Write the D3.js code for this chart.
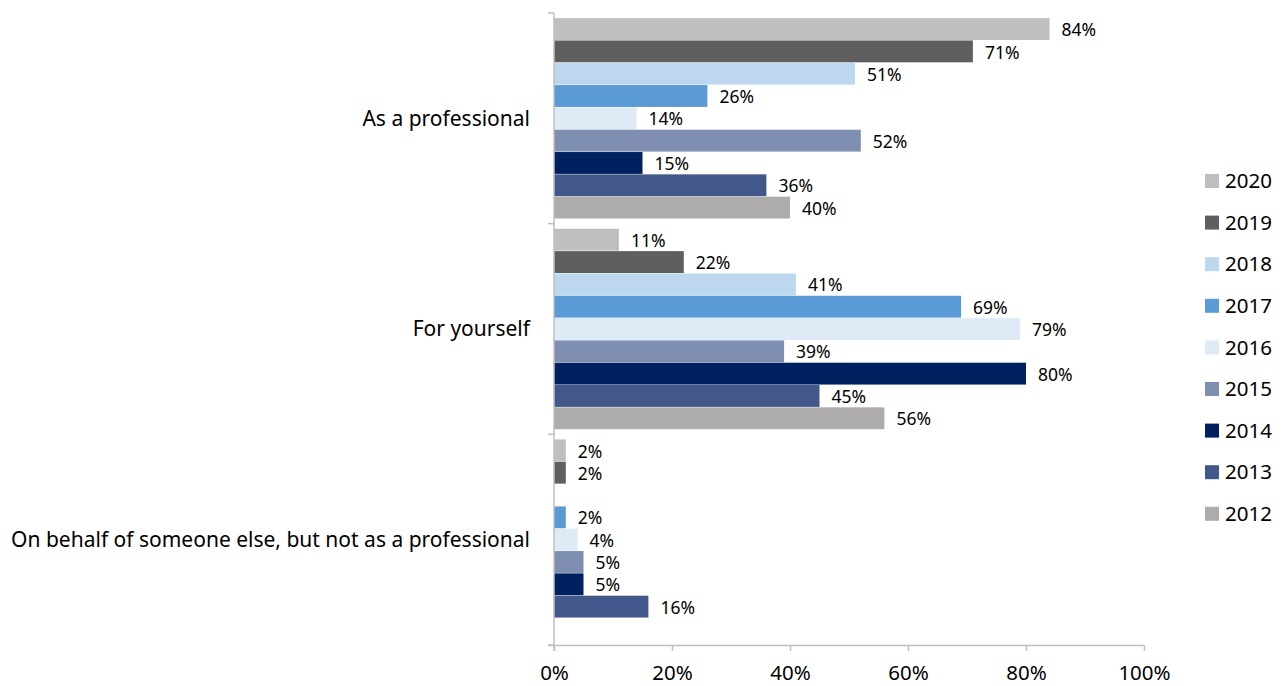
<!DOCTYPE html>
<html>
<head>
<meta charset="utf-8">
<script src="https://cdn.jsdelivr.net/npm/d3@7"></script>
<style>
  html, body { margin: 0; padding: 0; background: #fff; }
  svg { display: block; font-family: "Noto Sans", "Open Sans", sans-serif; }
</style>
</head>
<body>
<svg id="chart" width="1285" height="686"></svg>
<script>
// Categories (top to bottom) and series (years, drawn top to bottom inside each group)
const categories = ["As a professional", "For yourself", "On behalf of someone else, but not as a professional"];
const years = ["2020", "2019", "2018", "2017", "2016", "2015", "2014", "2013", "2012"];
const colors = ["#bfbfbf", "#5f5f5f", "#bdd7ee", "#5b9bd5", "#deebf7", "#7f8fb1", "#002060", "#42578a", "#aeabab"];

// Share (%) per year for each category; null = no response recorded
const asProfessional = [84, 71, 51, 26, 14, 52, 15, 36, 40];
const forYourself   = [11, 22, 41, 69, 79, 39, 80, 45, 56];
const onBehalf      = [2, 2, null, 2, 4, 5, 5, 16, null];
const seriesValues = [asProfessional, forYourself, onBehalf];

const xTicks = [0, 20, 40, 60, 80, 100];

const svg = d3.select("#chart");
const margin = { left: 554, top: 13, right: 141, bottom: 41 };
const width = 1285 - margin.left - margin.right;
const height = 686 - margin.top - margin.bottom;

const g = svg.append("g").attr("transform", `translate(${margin.left},${margin.top})`);

const x = d3.scaleLinear().domain([0, 100]).range([0, width]);
const y0 = d3.scaleBand().domain(categories).range([0, height]).padding(0);
const y1 = d3.scaleBand().domain(years).range([0, y0.bandwidth()])
  .paddingInner(0.02).paddingOuter(0.23);
const color = d3.scaleOrdinal().domain(years).range(colors);

const axisColor = "#bfbfbf";

// Bars and value labels
const groups = g.selectAll("g.cat")
  .data(categories.map((c, i) => ({ cat: c, values: seriesValues[i] })))
  .join("g")
  .attr("class", "cat")
  .attr("transform", d => `translate(0,${y0(d.cat)})`);

const cells = groups.selectAll("g.bar")
  .data(d => years.map((yr, j) => ({ year: yr, value: d.values[j] })).filter(d => d.value != null))
  .join("g").attr("class", "bar");

cells.append("rect")
  .attr("x", 0)
  .attr("y", d => y1(d.year))
  .attr("width", d => x(d.value))
  .attr("height", y1.bandwidth())
  .attr("fill", d => color(d.year));

cells.append("text")
  .attr("x", d => x(d.value) + 12)
  .attr("y", d => y1(d.year) + y1.bandwidth() / 2 + 1)
  .attr("dy", "0.35em")
  .attr("font-size", 17.5)
  .attr("fill", "#000")
  .text(d => d.value + "%");

// X axis
const xAxis = g.append("g")
  .attr("transform", `translate(0,${height})`)
  .call(d3.axisBottom(x).tickValues(xTicks).tickFormat(d => d + "%").tickSizeInner(6).tickSizeOuter(0).tickPadding(14));
xAxis.select(".domain").attr("stroke", axisColor).attr("stroke-width", 1.5)
  .attr("d", `M-6,0.5H${width}`);
xAxis.selectAll(".tick line").attr("stroke", axisColor).attr("stroke-width", 1.5);
xAxis.selectAll(".tick text").attr("font-size", 20.5).attr("fill", "#000")
  .style("font-family", "'Noto Sans', 'Open Sans', sans-serif");

// Y axis: boundaries between categories carry the ticks
const yAxis = g.append("g");
yAxis.append("line")
  .attr("x1", 0).attr("x2", 0).attr("y1", 0).attr("y2", height + 6)
  .attr("stroke", axisColor).attr("stroke-width", 1.5);
const boundaries = categories.map(c => y0(c)).concat([height]);
yAxis.selectAll("line.tick")
  .data(boundaries)
  .join("line").attr("class", "tick")
  .attr("x1", -6).attr("x2", 0)
  .attr("y1", d => d).attr("y2", d => d)
  .attr("stroke", axisColor).attr("stroke-width", 1.5);
yAxis.selectAll("text")
  .data(categories)
  .join("text")
  .attr("x", -24)
  .attr("y", d => y0(d) + y0.bandwidth() / 2)
  .attr("dy", "0.35em")
  .attr("text-anchor", "end")
  .attr("font-size", 21)
  .attr("fill", "#000")
  .text(d => d);

// Legend
const legend = svg.append("g").attr("transform", "translate(1205,181)");
const item = legend.selectAll("g")
  .data(years)
  .join("g")
  .attr("transform", (d, i) => `translate(0,${i * 41.6})`);
item.append("rect")
  .attr("x", 0).attr("y", -7).attr("width", 14).attr("height", 14)
  .attr("fill", d => color(d));
item.append("text")
  .attr("x", 20).attr("y", 0).attr("dy", "0.35em")
  .attr("font-size", 20.5).attr("fill", "#000")
  .text(d => d);
</script>
</body>
</html>
